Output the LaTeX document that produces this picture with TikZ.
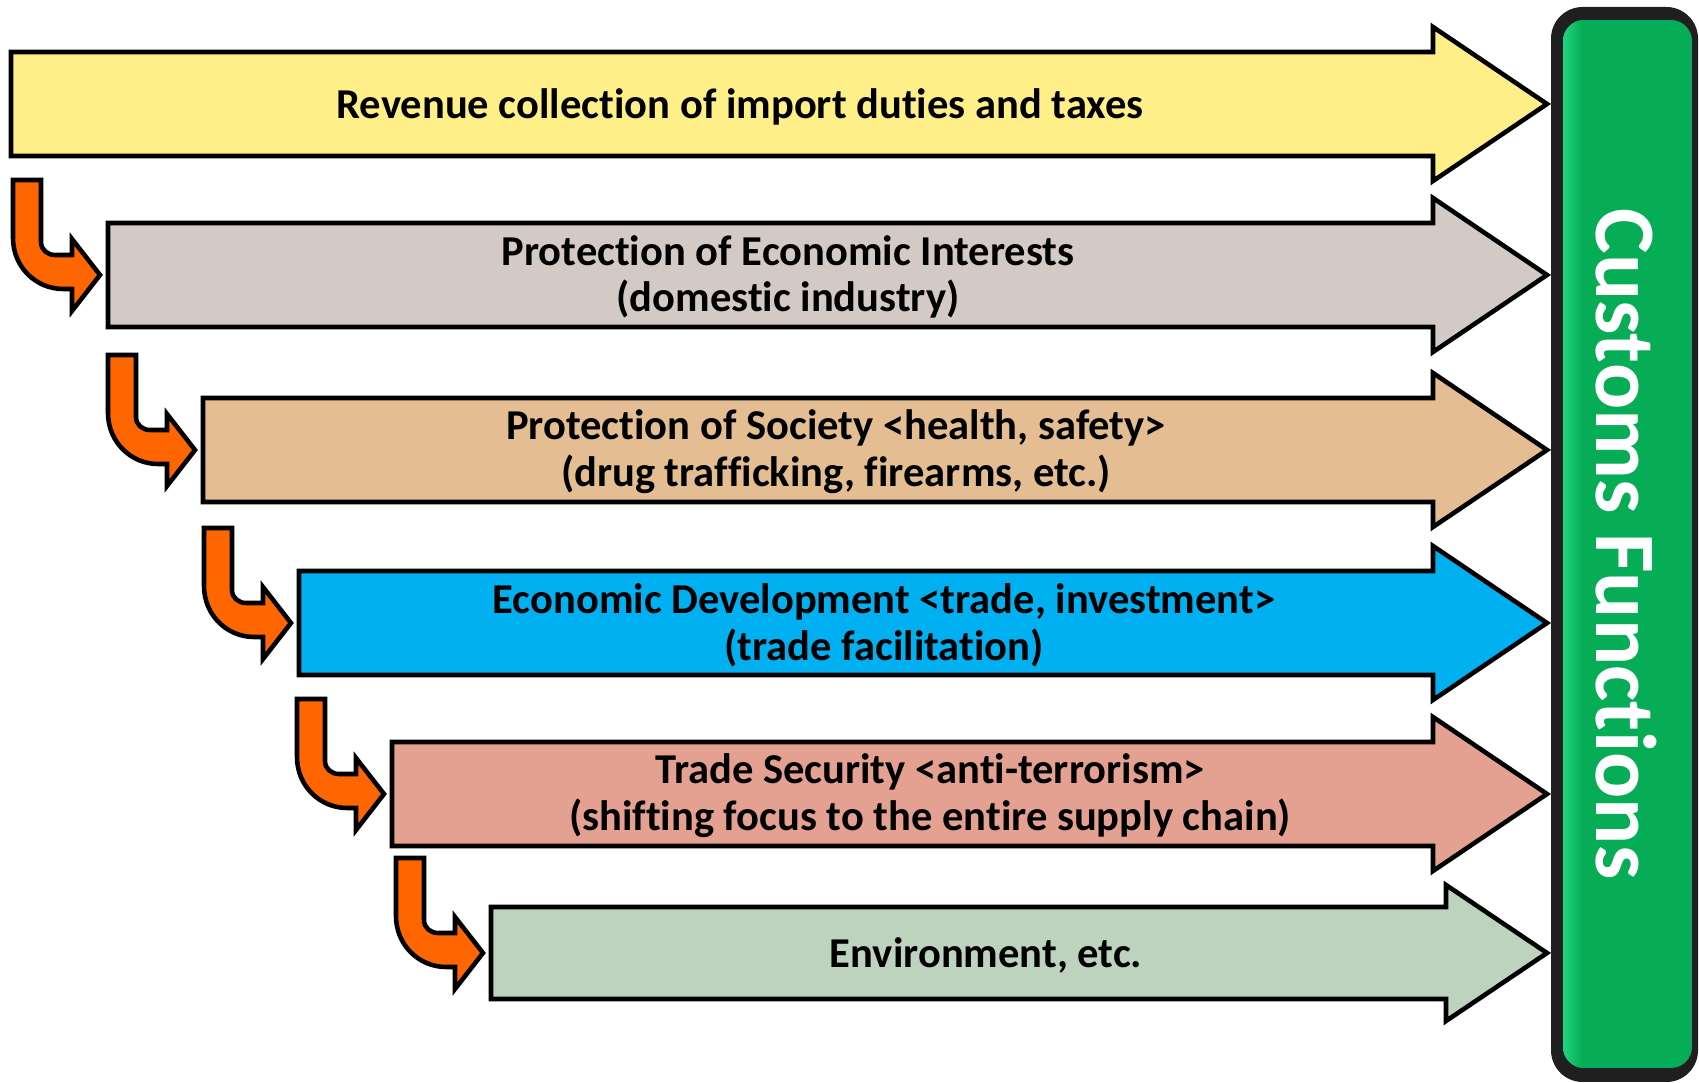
\documentclass[tikz,border=0pt]{standalone}
\usepackage{fontspec}
\setmainfont{Carlito}[Ligatures={NoCommon}]
\definecolor{rowA}{HTML}{FFEF88}
\definecolor{rowB}{HTML}{D3CAC6}
\definecolor{rowC}{HTML}{E4BE92}
\definecolor{rowD}{HTML}{00B0F0}
\definecolor{rowE}{HTML}{E4A192}
\definecolor{rowF}{HTML}{BED3BD}
\definecolor{turnorange}{HTML}{FF6600}
\definecolor{barGreen}{HTML}{07AD56}
\definecolor{barLight}{HTML}{22D47E}
\tikzset{
  rowarrow/.style={draw=black, line width=1.3pt, line join=miter},
  turnarrow/.style={draw=black, line width=1.3pt, line join=miter, fill=turnorange},
  rowtext/.style={font=\bfseries\fontsize{12.1}{13.3}\selectfont, align=center, inner sep=0pt},
  bartext/.style={font=\bfseries\fontsize{24.5}{28}\selectfont, text=white, rotate=-90, inner sep=0pt}
}
% block arrow: left x, center y, body half height, head half height, head base x, colour
\newcommand{\blockarr}[6]{%
  \draw[rowarrow, fill=#6] ({#1},{#2-#3}) -- ({#5},{#2-#3}) -- ({#5},{#2-#4}) -- (1547,{#2})
    -- ({#5},{#2+#4}) -- ({#5},{#2+#3}) -- ({#1},{#2+#3}) -- cycle;}
% turning arrow: target left x, target center y
\newcommand{\turnarr}[2]{%
  \draw[turnarrow] ({#1-95},{#2-95}) -- ({#1-67},{#2-95}) -- ({#1-67},{#2-33})
    .. controls ({#1-67},{#2-25.3}) and ({#1-60.7},{#2-20}) .. ({#1-53},{#2-20})
    -- ({#1-36},{#2-20}) -- ({#1-36},{#2-36}) -- ({#1-8},{#2}) -- ({#1-36},{#2+36})
    -- ({#1-36},{#2+14}) -- ({#1-45},{#2+14})
    .. controls ({#1-72},{#2+14}) and ({#1-95},{#2-8}) .. ({#1-95},{#2-37}) -- cycle;}
\begin{document}
\begin{tikzpicture}[x=0.01cm, y=-0.01cm]
\useasboundingbox (0,0) rectangle (1699,1083);
% green bar
\fill[black!88, rounded corners=9pt] (1551,7) rectangle (1698,1082);
\begin{scope}
  \clip[rounded corners=6pt] (1563,20) rectangle (1692,1068);
  \fill[barGreen] (1563,20) rectangle (1692,1068);
  \shade[left color=barLight, right color=barGreen] (1563,20) rectangle (1582,1068);
\end{scope}
\node[bartext] (bar) at (1626,544) {Customs Functions};
% rows
\blockarr{11}{104}{52}{77}{1433}{rowA}
\blockarr{108}{275}{52}{77}{1433}{rowB}
\blockarr{203}{450}{52}{77}{1433}{rowC}
\blockarr{299}{623}{52}{77}{1433}{rowD}
\blockarr{392}{794}{52}{77}{1433}{rowE}
\blockarr{491}{953}{46}{68}{1446}{rowF}
% turning arrows
\turnarr{108}{275}
\turnarr{203}{450}
\turnarr{299}{623}
\turnarr{392}{794}
\turnarr{491}{953}
% texts
\node[rowtext] (t1) at (740,107) {Revenue collection of import duties and taxes};
\node[rowtext] (t2) at (788,277) {Protection of Economic Interests\\(domestic industry)};
\node[rowtext] (t3) at (836,452) {Protection of Society <health, safety>\\(drug trafficking, firearms, etc.)};
\node[rowtext] (t4) at (884,625) {Economic Development <trade, investment>\\(trade facilitation)};
\node[rowtext] (t5) at (930,796) {Trade Security <anti-terrorism>\\(shifting focus to the entire supply chain)};
\node[rowtext] (t6) at (986,955) {Environment, etc.};
\end{tikzpicture}
\end{document}
